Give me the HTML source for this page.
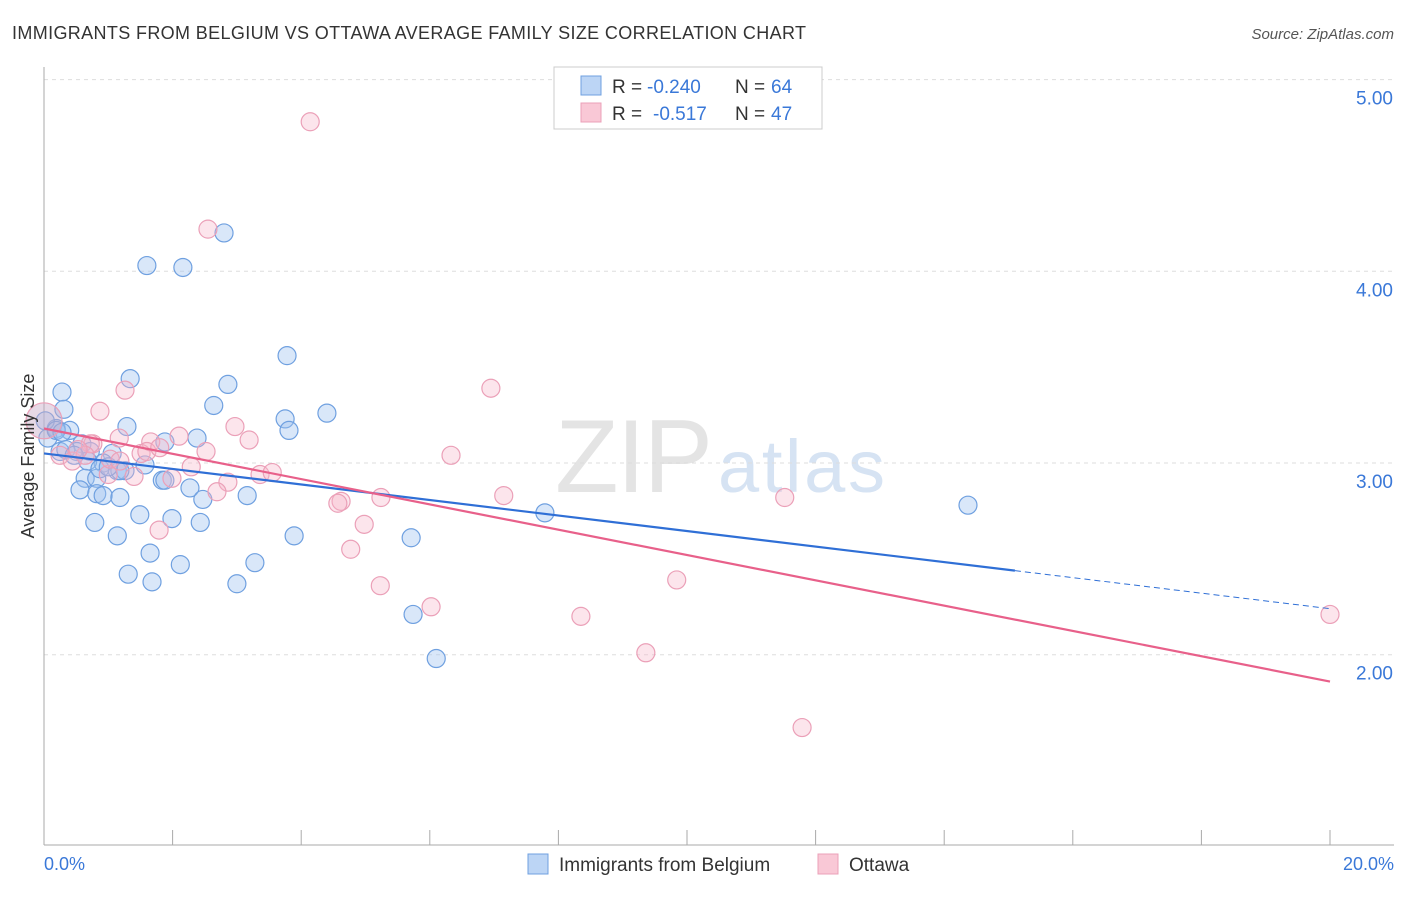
<!DOCTYPE html>
<html><head><meta charset="utf-8"><style>
body{margin:0;background:#fff;font-family:"Liberation Sans",sans-serif}
svg text{font-family:"Liberation Sans",sans-serif}
</style></head><body>
<svg id="c" width="1406" height="892">
<text x="12" y="39" font-size="18" fill="#333" textLength="794">IMMIGRANTS FROM BELGIUM VS OTTAWA AVERAGE FAMILY SIZE CORRELATION CHART</text>
<text x="1394" y="39" font-size="15" fill="#555" font-style="italic" text-anchor="end">Source: ZipAtlas.com</text>
<text x="555" y="492" font-size="104" fill="#e4e4e4" textLength="158" font-family="Liberation Serif">ZIP</text>
<text x="718" y="492" font-size="74" fill="#d6e3f3" textLength="167">atlas</text>
<g id="grid"></g><g id="marks"></g>
<text transform="translate(34,456) rotate(-90)" font-size="18" fill="#333" text-anchor="middle">Average Family Size</text>
<text x="44" y="870" font-size="18" fill="#3a78d8">0.0%</text>
<text x="1394" y="870" font-size="18" fill="#3a78d8" text-anchor="end">20.0%</text>
<g>
<rect x="554" y="67" width="268" height="62" fill="#fff" stroke="#ccc"/>
<rect x="581" y="76" width="20" height="19" fill="#bcd5f5" stroke="#6fa0e0"/>
<rect x="581" y="103" width="20" height="19" fill="#f9c8d6" stroke="#eba0b8"/>
<text x="612" y="93" font-size="19" fill="#333">R =</text>
<text x="647" y="93" font-size="19" fill="#3a78d8">-0.240</text>
<text x="735" y="93" font-size="19" fill="#333">N =</text>
<text x="771" y="93" font-size="19" fill="#3a78d8">64</text>
<text x="612" y="120" font-size="19" fill="#333">R =</text>
<text x="653" y="120" font-size="19" fill="#3a78d8">-0.517</text>
<text x="735" y="120" font-size="19" fill="#333">N =</text>
<text x="771" y="120" font-size="19" fill="#3a78d8">47</text>
</g>
<g>
<rect x="528" y="854" width="20" height="20" fill="#bcd5f5" stroke="#6fa0e0"/>
<text x="559" y="871" font-size="19" fill="#333">Immigrants from Belgium</text>
<rect x="818" y="854" width="20" height="20" fill="#f9c8d6" stroke="#eba0b8"/>
<text x="849" y="871" font-size="19" fill="#333">Ottawa</text>
</g>
</svg>
<script>
const yTicks=[2,3,4,5];
const yTickLabels=["2.00","3.00","4.00","5.00"];
const blueX=[1.60,2.16,2.80,3.78,1.34,2.86,0.28,2.64,0.31,4.40,3.75,3.81,1.29,2.38,1.88,0.19,0.06,0.40,0.59,0.25,0.51,0.72,1.06,0.92,1.57,0.68,1.14,1.26,0.64,0.82,1.84,2.27,0.56,0.82,0.92,1.18,2.47,3.16,1.49,1.99,0.79,2.43,1.14,3.89,5.71,7.79,14.37,1.65,2.12,3.28,1.31,1.68,3.00,5.74,6.10,0.02,0.19,0.34,0.47,0.87,0.28,1.18,1.88,1.00];
const blueY=[4.03,4.02,4.20,3.56,3.44,3.41,3.37,3.30,3.28,3.26,3.23,3.17,3.19,3.13,3.11,3.18,3.13,3.17,3.10,3.06,3.06,3.06,3.05,3.00,2.99,3.01,2.96,2.96,2.92,2.92,2.91,2.87,2.86,2.84,2.83,2.82,2.81,2.83,2.73,2.71,2.69,2.69,2.62,2.62,2.61,2.74,2.78,2.53,2.47,2.48,2.42,2.38,2.37,2.21,1.98,3.22,3.17,3.07,3.04,2.97,3.16,2.96,2.91,2.98];
const pinkX=[4.14,2.55,6.95,1.26,0.87,2.97,1.17,1.66,2.10,3.19,0.76,2.52,6.33,0.25,0.44,1.51,1.60,2.29,1.40,1.99,1.00,3.36,3.55,2.86,2.69,4.62,4.57,5.24,7.15,11.52,4.98,1.79,4.77,5.23,9.84,6.02,8.35,9.36,11.79,20.0,0.0,0.72,1.80,1.03,1.18,0.64,0.53];
const pinkY=[4.78,4.22,3.39,3.38,3.27,3.19,3.13,3.11,3.14,3.12,3.10,3.06,3.04,3.04,3.01,3.05,3.06,2.98,2.93,2.92,2.94,2.94,2.95,2.90,2.85,2.80,2.79,2.82,2.83,2.82,2.68,2.65,2.55,2.36,2.39,2.25,2.20,2.01,1.62,2.21,3.22,3.10,3.08,3.02,3.01,3.04,3.07];
const blueTrend=[3.05,-0.0405], pinkTrend=[3.18,-0.066];
const NS="http://www.w3.org/2000/svg";
const X=v=>44+v*64.3, Y=v=>463-(v-3)*191.7;
function mk(t,a,p){const e=document.createElementNS(NS,t);for(const k in a)e.setAttribute(k,a[k]);p.appendChild(e);return e;}
const grid=document.getElementById('grid'), marks=document.getElementById('marks');
yTicks.forEach((t,i)=>{
 const l=mk('line',{x1:44,x2:1394,y1:Y(t),y2:Y(t),stroke:'#ddd','stroke-dasharray':'4,4'},grid);
 
 
 const tx=mk('text',{x:1393,y:Y(t)+25,'font-size':19,fill:'#3a78d8','text-anchor':'end'},grid);
 tx.textContent=yTickLabels[i];
 
 
});
mk('line',{x1:44,x2:44,y1:67,y2:845,stroke:'#aaa'},grid);
mk('line',{x1:44,x2:1394,y1:845,y2:845,stroke:'#aaa'},grid);
for(let k=0;k<=10;k++){const l=mk('line',{x1:X(2*k),x2:X(2*k),y1:830,y2:845,stroke:'#aaa'},grid);
 
 }
function pts(xs,ys,fill,stroke,name){xs.forEach((x,i)=>{
 const big=(x===0&&name==='pink-point');
 const c=mk('circle',{cx:X(x),cy:Y(ys[i]),r:big?18:9,fill:big?'rgba(200,170,200,0.45)':fill,stroke:stroke,'stroke-width':1.2},marks);
 
 });}
pts(blueX,blueY,'rgba(160,196,240,0.4)','#6fa0e0','blue-point');
pts(pinkX,pinkY,'rgba(245,180,200,0.35)','#eba0b8','pink-point');
const bl=mk('line',{x1:X(0),y1:Y(blueTrend[0]),x2:X(15.1),y2:Y(blueTrend[0]+blueTrend[1]*15.1),stroke:'#2f6fd6','stroke-width':2.2},marks);


const bd=mk('line',{x1:X(15.1),y1:Y(blueTrend[0]+blueTrend[1]*15.1),x2:X(20),y2:Y(blueTrend[0]+blueTrend[1]*20),stroke:'#2f6fd6','stroke-width':1,'stroke-dasharray':'6,4'},marks);


const pl=mk('line',{x1:X(0),y1:Y(pinkTrend[0]),x2:X(20),y2:Y(pinkTrend[0]+pinkTrend[1]*20),stroke:'#e8608a','stroke-width':2.2},marks);


</script>
</body></html>
